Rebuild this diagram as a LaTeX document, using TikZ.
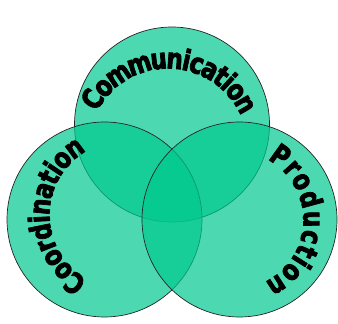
\documentclass[tikz,border=0pt]{standalone}
\usepackage{fontspec}
\newfontfamily\vennfont{DejaVu Sans Bold}[FakeBold=3]
\usetikzlibrary{decorations.text}
\definecolor{venngreen}{RGB}{0,200,142}

\begin{document}
\begin{tikzpicture}[x=1pt, y=1pt,
    area/.style={circle, draw=black!85, line width=0.7pt, fill=venngreen, fill opacity=0.7, minimum size=195pt, inner sep=0pt},
    arctext/.style={decorate, decoration={text effects along path, text={#1},
        text effects/.cd, text along path, fit text to path,
        characters={font=\vennfont\fontsize{22}{22}\selectfont, xscale=1.05, yscale=1.3, inner sep=0pt}}}
]
\useasboundingbox (0,0) rectangle (338,324);

% the three circles
\node (comm) [area] at (172,199.5) {};
\node (coord) [area] at (104.5,104.5) {};
\node (prod) [area] at (239.5,104.5) {};

% curved labels
\path [arctext=Communication] ([shift={(-4,-24)}]comm.center) ++(153:80) arc[start angle=153, end angle=24, radius=80];
\path [arctext=Coordination] ([shift={(19,4.5)}]coord.center) ++(241:74) arc[start angle=241, end angle=120, radius=74];
\path [arctext=Production] ([shift={(-5,-0.5)}]prod.center) ++(61.5:69) arc[start angle=61.5, end angle=-64, radius=69];

\end{tikzpicture}
\end{document}
